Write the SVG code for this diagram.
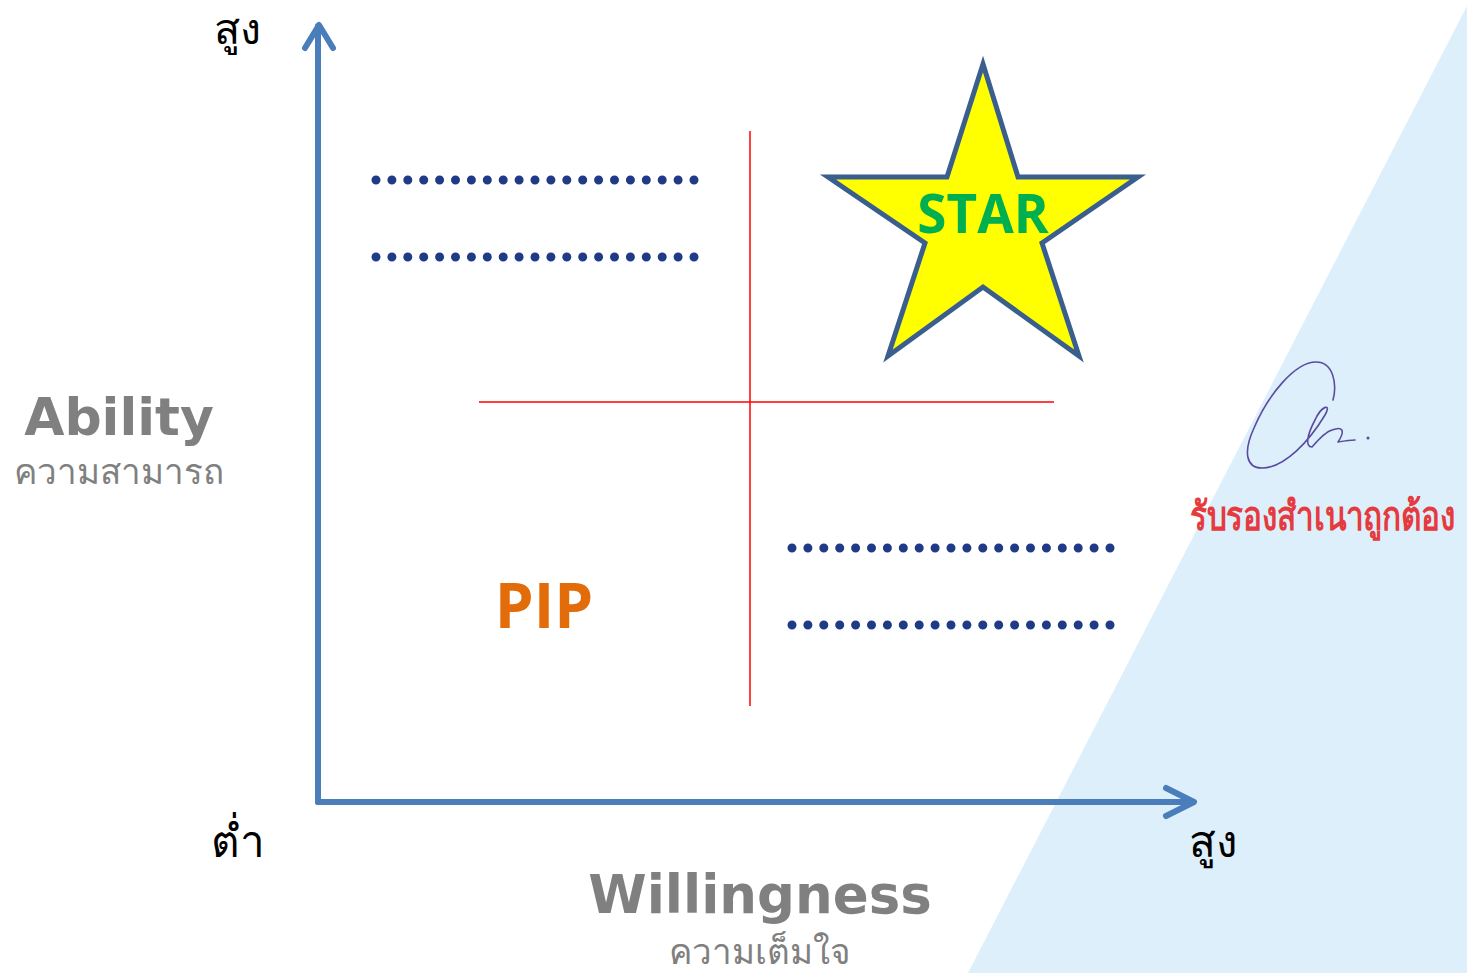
<svg xmlns="http://www.w3.org/2000/svg" width="1467" height="973" viewBox="0 0 1467 973">
<style>
.axis{stroke:#4a7ebb;stroke-width:6;fill:none;stroke-linecap:round;stroke-linejoin:round}
.red{stroke:#ff0000;stroke-width:1.5}
.dots{stroke:#1f3a88;stroke-width:9;stroke-linecap:round;stroke-dasharray:0 15.9}
.th{font-family:"Noto Sans","DejaVu Sans",sans-serif;fill:#000}
.lbl{font-family:"DejaVu Sans","Noto Sans",sans-serif;font-weight:bold;fill:#808080}
.sub{font-family:"Noto Sans","DejaVu Sans",sans-serif;fill:#808080}
</style>
<rect width="1467" height="973" fill="#ffffff"/>
<polygon points="968,973 1467,6 1467,973" fill="#ddeffb"/>
<g id="quadrant-lines">
<line class="red" x1="750" y1="131" x2="750" y2="706"/>
<line class="red" x1="479" y1="402" x2="1054" y2="402"/>
</g>
<g id="connectors">
<line class="axis" x1="318" y1="802" x2="318" y2="26"/>
<polyline class="axis" points="305,48 319,25 333,48"/>
<line class="axis" x1="318" y1="802" x2="1193" y2="802"/>
<polyline class="axis" points="1166,788 1194,802 1166,816"/>
</g>
<g id="dotted-top">
<line class="dots" x1="376" y1="180" x2="695" y2="180"/>
<line class="dots" x1="376" y1="257" x2="695" y2="257"/>
</g>
<g id="dotted-bottom">
<line class="dots" x1="792" y1="548" x2="1111" y2="548"/>
<line class="dots" x1="792" y1="625" x2="1111" y2="625"/>
</g>
<g id="star">
<polygon points="983,64 1018,177 1138,177 1042,243 1079,356 983,287 888,356 925,243 828,177 947,177" fill="#ffff00" stroke="#3a5f8f" stroke-width="5" stroke-linejoin="miter"/>
<text x="983" y="233" text-anchor="middle" font-family="'Open Sans','Noto Sans',sans-serif" font-weight="bold" font-size="53" fill="#00b050">STAR</text>
</g>
<g id="pip">
<text x="544" y="628" text-anchor="middle" font-family="'Open Sans','Noto Sans',sans-serif" font-weight="bold" font-size="62" fill="#e36c0a">PIP</text>
</g>
<g id="axis-labels">
<text class="th" x="237" y="44" text-anchor="middle" font-size="43">สูง</text>
<text class="th" x="238" y="857" text-anchor="middle" font-size="44">ต่ำ</text>
<text class="th" x="1213" y="857" text-anchor="middle" font-size="44">สูง</text>
</g>
<g id="ability">
<text class="lbl" x="119" y="435" text-anchor="middle" font-size="52">Ability</text>
<text class="sub" x="119" y="484" text-anchor="middle" font-size="35">ความสามารถ</text>
</g>
<g id="willingness">
<text class="lbl" x="760" y="913" text-anchor="middle" font-size="53">Willingness</text>
<text class="sub" x="760" y="964" text-anchor="middle" font-size="35">ความเต็มใจ</text>
</g>
<g id="stamp">
<path d="M1333,400 C1337,385 1334,362 1316,362 C1295,362 1268,395 1254,428 C1243,452 1246,468 1262,468 C1285,468 1310,440 1325,415 C1332,403 1322,405 1315,420 C1307,435 1305,447 1312,447 C1318,440 1325,432 1332,430 C1342,426 1346,430 1338,442 C1344,441 1350,440 1355,440" fill="none" stroke="#5a4aa0" stroke-width="1.6" stroke-linecap="round" stroke-linejoin="round"/>
<circle cx="1368" cy="438" r="1.5" fill="#5a4aa0"/>
<text x="1190" y="530" font-family="'Noto Sans','DejaVu Sans',sans-serif" font-weight="bold" font-size="40" fill="#e53a3e" textLength="266" lengthAdjust="spacingAndGlyphs">รับรองสำเนาถูกต้อง</text>
</g>
</svg>
